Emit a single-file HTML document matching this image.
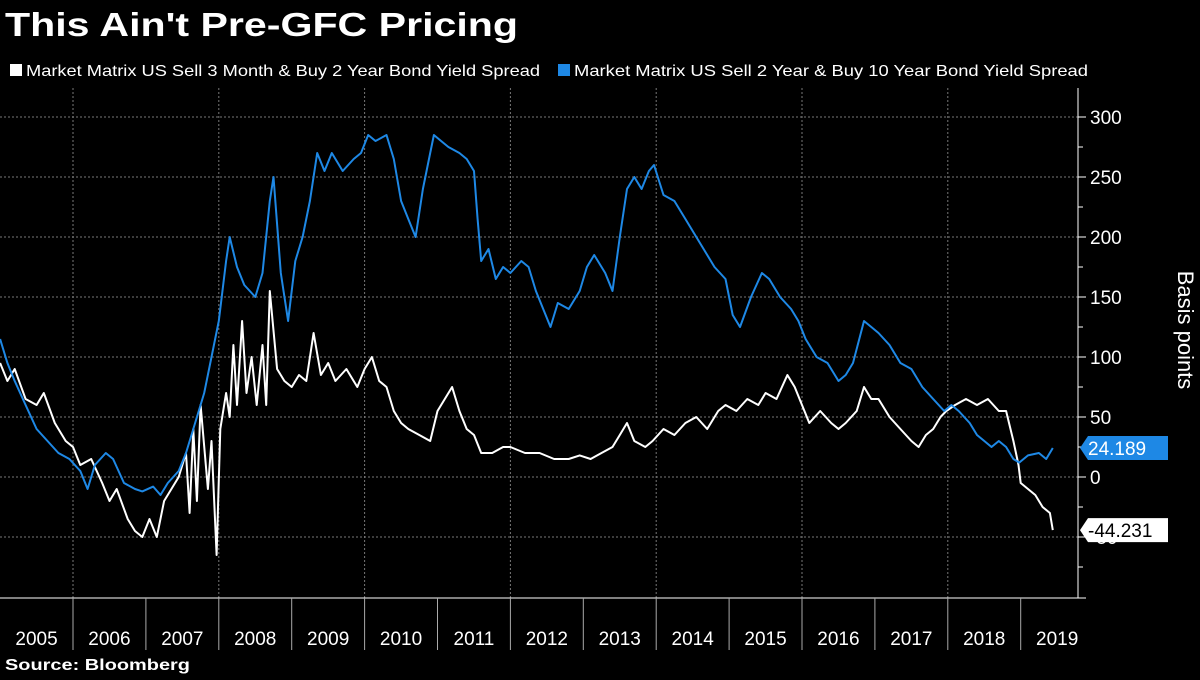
<!DOCTYPE html>
<html><head><meta charset="utf-8"><style>
body{margin:0;background:#000;width:1200px;height:675px;overflow:hidden;font-family:"Liberation Sans","DejaVu Sans",sans-serif;color:#fff}
</style></head><body>
<svg id="c" width="1200" height="675" xmlns="http://www.w3.org/2000/svg">
<text x="5" y="36" font-size="33" font-weight="bold" fill="#fff" textLength="513" lengthAdjust="spacingAndGlyphs">This Ain't Pre-GFC Pricing</text>
<g>
<rect x="10" y="64" width="12" height="12" fill="#fff"/>
<text x="26" y="76" font-size="16" fill="#fff" textLength="514" lengthAdjust="spacingAndGlyphs">Market Matrix US Sell 3 Month &amp; Buy 2 Year Bond Yield Spread</text>
<rect x="558" y="64" width="12" height="12" fill="#1e88e5"/>
<text x="574" y="76" font-size="16" fill="#fff" textLength="514" lengthAdjust="spacingAndGlyphs">Market Matrix US Sell 2 Year &amp; Buy 10 Year Bond Yield Spread</text>
</g>
<g id="grid"></g><g id="axes"></g><g id="series"></g><g id="labels"></g>
<text transform="translate(1178,330) rotate(90)" text-anchor="middle" font-size="22" fill="#fff">Basis points</text>
<text x="5" y="670" font-size="16" font-weight="bold" fill="#fff" textLength="185" lengthAdjust="spacingAndGlyphs">Source: Bloomberg</text>
</svg>
<script>
const yTicks=[300,250,200,150,100,50,0,-50];
const years=[2005,2006,2007,2008,2009,2010,2011,2012,2013,2014,2015,2016,2017,2018,2019];
const blueDates=[2005.0,2005.1,2005.2,2005.35,2005.5,2005.65,2005.8,2005.95,2006.1,2006.2,2006.3,2006.45,2006.55,2006.7,2006.85,2006.95,2007.1,2007.2,2007.3,2007.45,2007.55,2007.65,2007.8,2007.9,2008.0,2008.1,2008.15,2008.25,2008.35,2008.5,2008.6,2008.7,2008.75,2008.85,2008.95,2009.05,2009.15,2009.25,2009.35,2009.45,2009.55,2009.7,2009.85,2009.95,2010.05,2010.15,2010.3,2010.4,2010.5,2010.6,2010.7,2010.8,2010.9,2010.95,2011.05,2011.15,2011.3,2011.4,2011.5,2011.55,2011.6,2011.7,2011.8,2011.9,2012.0,2012.15,2012.25,2012.35,2012.45,2012.55,2012.65,2012.8,2012.95,2013.05,2013.15,2013.3,2013.4,2013.5,2013.6,2013.7,2013.8,2013.9,2013.97,2014.1,2014.25,2014.4,2014.55,2014.65,2014.8,2014.95,2015.05,2015.15,2015.3,2015.45,2015.55,2015.7,2015.85,2015.95,2016.05,2016.2,2016.35,2016.5,2016.6,2016.7,2016.85,2016.95,2017.05,2017.2,2017.35,2017.5,2017.65,2017.8,2017.95,2018.05,2018.15,2018.3,2018.4,2018.5,2018.6,2018.7,2018.8,2018.9,2018.98,2019.1,2019.25,2019.35,2019.44];
const blueValues=[115,95,80,60,40,30,20,15,5,-10,10,20,15,-5,-10,-12,-8,-15,-5,5,20,40,70,100,130,180,200,175,160,150,170,230,250,170,130,180,200,230,270,255,270,255,265,270,285,280,285,265,230,215,200,240,270,285,280,275,270,265,255,215,180,190,165,175,170,180,175,155,140,125,145,140,155,175,185,170,155,200,240,250,240,255,260,235,230,215,200,190,175,165,135,125,150,170,165,150,140,130,115,100,95,80,85,95,130,125,120,110,95,90,75,65,55,60,55,45,35,30,25,30,25,15,12,18,20,15,24.189];
const whiteDates=[2005.0,2005.1,2005.2,2005.35,2005.5,2005.6,2005.75,2005.9,2006.0,2006.1,2006.25,2006.4,2006.5,2006.6,2006.75,2006.85,2006.95,2007.05,2007.15,2007.25,2007.35,2007.45,2007.55,2007.6,2007.65,2007.7,2007.75,2007.85,2007.9,2007.97,2008.02,2008.1,2008.15,2008.2,2008.25,2008.32,2008.38,2008.45,2008.52,2008.6,2008.65,2008.7,2008.8,2008.9,2009.0,2009.1,2009.2,2009.3,2009.4,2009.5,2009.6,2009.75,2009.9,2010.0,2010.1,2010.2,2010.3,2010.4,2010.5,2010.6,2010.75,2010.9,2011.0,2011.1,2011.2,2011.3,2011.4,2011.5,2011.6,2011.75,2011.9,2012.0,2012.2,2012.4,2012.6,2012.8,2012.95,2013.1,2013.25,2013.4,2013.5,2013.6,2013.7,2013.85,2013.95,2014.1,2014.25,2014.4,2014.55,2014.7,2014.85,2014.95,2015.1,2015.25,2015.4,2015.5,2015.65,2015.8,2015.9,2016.0,2016.1,2016.25,2016.4,2016.5,2016.6,2016.75,2016.85,2016.95,2017.05,2017.2,2017.35,2017.5,2017.6,2017.7,2017.8,2017.9,2017.98,2018.1,2018.25,2018.4,2018.55,2018.7,2018.8,2018.9,2018.97,2019.0,2019.1,2019.2,2019.3,2019.4,2019.44];
const whiteValues=[95,80,90,65,60,70,45,30,25,10,15,-5,-20,-10,-35,-45,-50,-35,-50,-20,-10,0,20,-30,40,-20,60,-10,30,-65,40,70,50,110,60,130,70,100,60,110,60,155,90,80,75,85,80,120,85,95,80,90,75,90,100,80,75,55,45,40,35,30,55,65,75,55,40,35,20,20,25,25,20,20,15,15,18,15,20,25,35,45,30,25,30,40,35,45,50,40,55,60,55,65,60,70,65,85,75,60,45,55,45,40,45,55,75,65,65,50,40,30,25,35,40,50,55,60,65,60,65,55,55,30,10,-5,-10,-15,-25,-30,-44.231];

const NS="http://www.w3.org/2000/svg";
const X0=0.1,YW=72.9,RIGHT=1078,BOT=598;
const xs=t=>X0+(t-2005)*YW;
const ys=v=>477-v*1.2;
function mk(tag,attrs,parent){const e=document.createElementNS(NS,tag);for(const k in attrs)e.setAttribute(k,attrs[k]);parent.appendChild(e);return e;}
const grid=document.getElementById('grid'),axes=document.getElementById('axes'),series=document.getElementById('series'),labels=document.getElementById('labels');
yTicks.forEach(v=>{
 const l=mk('line',{x1:0,x2:RIGHT,y1:ys(v),y2:ys(v),stroke:'#777','stroke-dasharray':'2,2','stroke-width':1},grid);
 
 
 const t=mk('line',{x1:RIGHT,x2:RIGHT+8,y1:ys(v),y2:ys(v),stroke:'#fff'},axes);
 
 
 const tx=mk('text',{x:1090,y:ys(v)+7,'font-size':19,fill:'#fff'},axes);
 tx.textContent=v;
 
 
});
[-75,-25,25,75,125,175,225,275].forEach(v=>{
 const t=mk('line',{x1:RIGHT,x2:RIGHT+5,y1:ys(v),y2:ys(v),stroke:'#fff'},axes);
 
 
});
mk('line',{x1:RIGHT,x2:RIGHT,y1:88,y2:BOT,stroke:'#fff'},axes);
mk('line',{x1:0,x2:RIGHT+8,y1:BOT,y2:BOT,stroke:'#fff'},axes);
years.forEach((y,i)=>{
 const x=xs(y);
 if(y%2===0&&y>2005){const g=mk('line',{x1:x,x2:x,y1:88,y2:BOT,stroke:'#777','stroke-dasharray':'2,2'},grid);
  
  }
 if(y>2005){const t=mk('line',{x1:x,x2:x,y1:BOT,y2:650,stroke:'#aaa'},axes);
  
  }
 const tx=mk('text',{x:x+YW/2,y:645,'font-size':19,fill:'#fff','text-anchor':'middle'},axes);
 tx.textContent=y;
 
 
});
function line(d,v,color,name){
 const p=mk('polyline',{points:d.map((t,i)=>xs(t).toFixed(1)+','+ys(v[i]).toFixed(1)).join(' '),fill:'none',stroke:color,'stroke-width':2,'stroke-linejoin':'round'},series);
 
 
}
line(whiteDates,whiteValues,'#fff','series-3m2y-line');
line(blueDates,blueValues,'#1e88e5','series-2s10s-line');
function tag(v,bg,fg,name){
 const y=ys(v);
 const g=mk('g',{},labels);
 
 
 mk('path',{d:`M${RIGHT+2},${y} L${RIGHT+10},${y-12} L1168,${y-12} L1168,${y+12} L${RIGHT+10},${y+12} Z`,fill:bg},g);
 const t=mk('text',{x:1088,y:y+7,'font-size':19,fill:fg},g);
 t.textContent=v.toFixed(3);
}
tag(blueValues[blueValues.length-1],'#1e88e5','#fff','last-value-2s10s');
tag(whiteValues[whiteValues.length-1],'#fff','#000','last-value-3m2y');
</script>
</body></html>
